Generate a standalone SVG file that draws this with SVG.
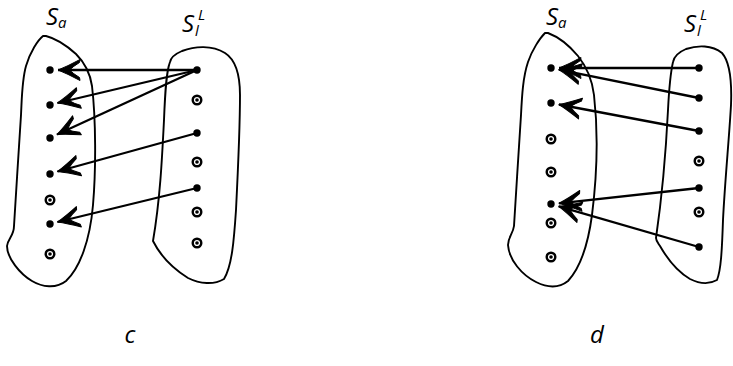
<svg xmlns="http://www.w3.org/2000/svg" width="733" height="366" viewBox="0 0 733 366">
<style>
.blob{fill:none;stroke:#000;stroke-width:1.9;stroke-linejoin:round}
.edge{fill:none;stroke:#000;stroke-width:2.3;marker-end:url(#ah)}
.dot{fill:#000}
.ring{fill:none;stroke:#000;stroke-width:2.4}
.lbl{font-family:"Open Sans","DejaVu Sans",sans-serif;font-style:italic;fill:#000}
</style>
<defs>
<marker id="ah" viewBox="-24 -12 26 24" refX="0" refY="0" markerWidth="26" markerHeight="24" markerUnits="userSpaceOnUse" orient="auto">
<path d="M0,0 Q-9,-3.5 -22,-10.5 L-21.5,-7.5 Q-15,-3.5 -11.5,0 Q-15,3.5 -21.5,7.5 L-22,10.5 Q-9,3.5 0,0 Z" fill="#000" stroke="#000" stroke-width="1" stroke-linejoin="round"/>
</marker>
<g id="pt"><circle r="3.7" class="dot"/></g>
<g id="rg"><circle r="4.3" class="ring"/><circle r="1.8" class="dot"/></g>
</defs>
<rect width="733" height="366" fill="#fff"/>

<!-- panel c -->
<g id="c-Sa-region">
<path class="blob" d="M43,36 C38,40 30,52 26,66 C22,80 22,95 21,115 C19,150 16,190 14,226 C14,236 8,238 7,246 C7,258 20,274 32,281 C42,287 56,289 66,281 C80,268 90,240 93,205 C96,170 96,120 92,86 C90,72 84,62 76,54 C66,45 54,38 46,36 Z"/>
</g>
<g id="c-SlL-region">
<path class="blob" d="M170,62 C166,72 165,95 164,120 C162,160 160,200 153,241 C160,255 172,268 188,278 C200,284 214,285 224,279 C232,266 234,240 236,210 C238,170 240,130 240,95 C240,75 236,60 225,53 C212,45 195,46 182,51 C175,54 171,57 170,62 Z"/>
</g>
<g id="c-labels">
<text class="lbl" x="46" y="25" font-size="24">S<tspan font-size="15" dy="3">a</tspan></text>
<text class="lbl" x="182" y="32" font-size="24">S<tspan font-size="15" dx="1" dy="4">l</tspan><tspan font-size="15" dx="-1" dy="-16">L</tspan></text>
<text class="lbl" x="130" y="343" font-size="24" text-anchor="middle">c</text>
</g>
<g id="c-connectors">
<line class="edge" x1="197" y1="70" x2="58" y2="70"/>
<line class="edge" x1="197" y1="70" x2="57.5" y2="103"/>
<line class="edge" x1="197" y1="70" x2="57" y2="134.5"/>
<line class="edge" x1="197" y1="133" x2="57.5" y2="171.5"/>
<line class="edge" x1="197" y1="188" x2="57.5" y2="222"/>
</g>
<g id="c-a1"><use href="#pt" x="50" y="70"/></g>
<g id="c-a2"><use href="#pt" x="50" y="105"/></g>
<g id="c-a3"><use href="#pt" x="50" y="138"/></g>
<g id="c-a4"><use href="#pt" x="50" y="174"/></g>
<g id="c-a5"><use href="#rg" x="50" y="200"/></g>
<g id="c-a6"><use href="#pt" x="50" y="224"/></g>
<g id="c-a7"><use href="#rg" x="50" y="254"/></g>
<g id="c-b1"><use href="#pt" x="197" y="70"/></g>
<g id="c-b2"><use href="#rg" x="197" y="100"/></g>
<g id="c-b3"><use href="#pt" x="197" y="133"/></g>
<g id="c-b4"><use href="#rg" x="197" y="162"/></g>
<g id="c-b5"><use href="#pt" x="197" y="188"/></g>
<g id="c-b6"><use href="#rg" x="197" y="212"/></g>
<g id="c-b7"><use href="#rg" x="197" y="243"/></g>

<!-- panel d -->
<g id="d-Sa-region">
<path class="blob" d="M545,33 C540,38 532,50 528,62 C523,77 522,95 521,115 C519,150 516,190 514,226 C513,234 508,237 508,245 C509,260 522,275 536,282 C546,287 558,289 568,281 C580,268 588,245 592,215 C597,175 598,130 594,95 C592,78 586,66 578,56 C568,44 556,36 548,33 Z"/>
</g>
<g id="d-SlL-region">
<path class="blob" d="M673,62 C670,75 669,90 668,110 C666,150 663,190 656,238 C656,241 658,243 660,246 C668,260 678,272 690,279 C700,284 710,284 717,280 C721,270 722,250 723,220 C725,180 729,140 731,105 C732,80 730,62 722,53 C712,45 698,45 686,49 C679,52 674,56 673,62 Z"/>
</g>
<g id="d-labels">
<text class="lbl" x="546" y="25" font-size="24">S<tspan font-size="15" dy="3">a</tspan></text>
<text class="lbl" x="684" y="32" font-size="24">S<tspan font-size="15" dx="1" dy="4">l</tspan><tspan font-size="15" dx="-1" dy="-16">L</tspan></text>
<text class="lbl" x="597" y="343" font-size="24" text-anchor="middle">d</text>
</g>
<g id="d-connectors">
<line class="edge" x1="699" y1="68" x2="559" y2="68"/>
<line class="edge" x1="699" y1="98" x2="558.8" y2="69.6"/>
<line class="edge" x1="699" y1="131" x2="558.9" y2="104.5"/>
<line class="edge" x1="699" y1="188" x2="559" y2="203.3"/>
<line class="edge" x1="699" y1="247" x2="558.7" y2="206.3"/>
</g>
<g id="d-a1"><use href="#pt" x="551" y="68"/></g>
<g id="d-a2"><use href="#pt" x="551" y="103"/></g>
<g id="d-a3"><use href="#rg" x="551" y="139"/></g>
<g id="d-a4"><use href="#rg" x="551" y="172"/></g>
<g id="d-a5"><use href="#pt" x="551" y="204"/></g>
<g id="d-a6"><use href="#rg" x="551" y="223"/></g>
<g id="d-a7"><use href="#rg" x="551" y="257"/></g>
<g id="d-b1"><use href="#pt" x="699" y="68"/></g>
<g id="d-b2"><use href="#pt" x="699" y="98"/></g>
<g id="d-b3"><use href="#pt" x="699" y="131"/></g>
<g id="d-b4"><use href="#rg" x="699" y="161"/></g>
<g id="d-b5"><use href="#pt" x="699" y="188"/></g>
<g id="d-b6"><use href="#rg" x="699" y="212"/></g>
<g id="d-b7"><use href="#pt" x="699" y="247"/></g>
</svg>
